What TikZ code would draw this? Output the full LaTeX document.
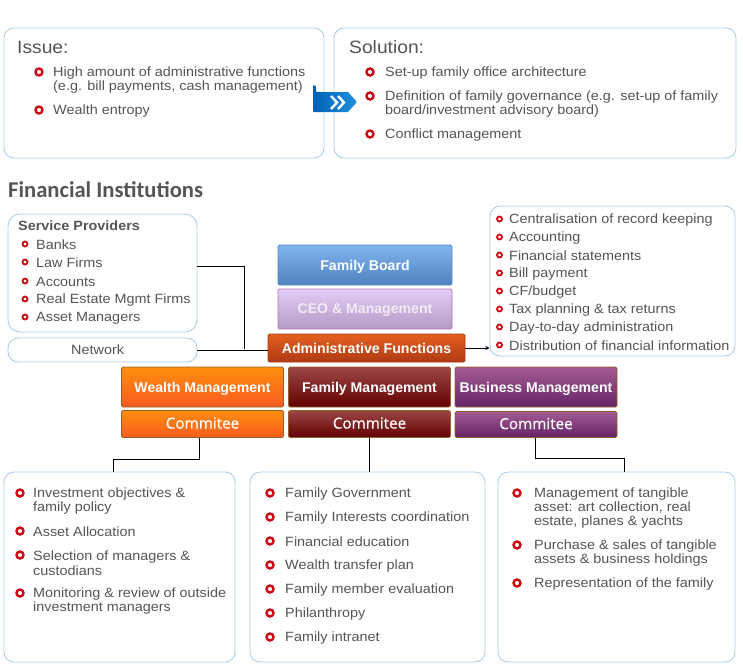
\documentclass[tikz,border=0pt]{standalone}
\usepackage{fontspec}
\setmainfont[FakeStretch=1.075]{Liberation Sans}
\newfontfamily\blockfont{Liberation Sans}
\newfontfamily\comfont[FakeBold=0.5]{Open Sans}
\newfontfamily\headfont{Carlito}
\definecolor{edgeblue}{HTML}{A9CFEA}
\definecolor{textgray}{HTML}{555555}
\definecolor{dotred}{HTML}{CC0A14}
\begin{document}
\begin{tikzpicture}[
  x=1pt, y=-1pt,
  panel/.style={rectangle, draw=edgeblue, line width=0.9pt, rounded corners=10pt, fill=white},
  item/.style={anchor=west, yshift=-1pt, inner sep=0pt, align=left, text=textgray, font=\fontsize{13.4}{14.4}\selectfont},
  dot/.style={circle, draw=dotred, line width=2.4pt, fill=white, inner sep=0pt, minimum size=7pt},
  smalldot/.style={circle, draw=dotred, line width=1.8pt, fill=white, inner sep=0pt, minimum size=5pt},
  head/.style={anchor=west, inner sep=0pt, text=textgray, font=\fontsize{17.9}{20}\selectfont},
  block/.style={rectangle, rounded corners=1.5pt, line width=0.8pt, text=white, inner sep=0pt, text depth=0pt, font=\fontsize{14.1}{16}\selectfont\blockfont\bfseries},
  wide/.style={block, minimum width=162pt, minimum height=40pt},
  com/.style={block, text depth=2pt, font=\fontsize{15.2}{18}\selectfont\comfont, minimum width=162pt},
  orangefill/.style={draw=orangeedge, top color=orangetop, bottom color=orangebot},
  redfill/.style={draw=orangeedge, top color=redtop, bottom color=redbot},
  purplefill/.style={draw=orangeedge, top color=purpletop, bottom color=purplebot},
  link/.style={draw=black, line width=0.9pt}
]
\definecolor{orangeedge}{HTML}{94602A}
\definecolor{orangetop}{HTML}{FF8F0F}
\definecolor{orangebot}{HTML}{FA5A20}
\definecolor{redtop}{HTML}{9C4646}
\definecolor{redbot}{HTML}{620000}
\definecolor{purpletop}{HTML}{A45A92}
\definecolor{purplebot}{HTML}{642468}
\useasboundingbox (0,0) rectangle (743,670);

% Top panels
\node[panel, minimum width=320pt, minimum height=130pt] (issue) at (164,93) {};
\node[panel, minimum width=402pt, minimum height=130pt] (solution) at (535,93) {};

% Arrow between the panels
\definecolor{arrowleft}{HTML}{0060B4}
\definecolor{arrowright}{HTML}{2092DE}
\path[left color=arrowleft, right color=arrowright, rounded corners=0.8pt]
  (313,85) -- (316,86) -- (316,92) -- (348,92) -- (357,102) -- (348,112) -- (313,112) -- cycle;
\draw[white, line width=2.4pt] (331,96) -- (337,102.5) -- (331,109) (338,96) -- (344,102.5) -- (338,109);

% Issue text
\node[head] (issuehead) at (17,47) {Issue:};
\node[item] (issue1) at (53,79) {High amount of administrative functions\\(e.g. bill payments, cash management)};
\node[item] (issue2) at (53,110) {Wealth entropy};
\node[dot] at (39,72) {};
\node[dot] at (39,110) {};

% Solution text
\node[head] (solutionhead) at (349,47) {Solution:};
\node[item] (sol1) at (385,72) {Set-up family office architecture};
\node[item] (sol2) at (385,103) {Definition of family governance (e.g. set-up of family\\board/investment advisory board)};
\node[item] (sol3) at (385,134) {Conflict management};
\node[dot] at (370,72) {};
\node[dot] at (370,96) {};
\node[dot] at (370,134) {};

\node[anchor=west, inner sep=0pt, text=textgray, font=\fontsize{22.6}{24}\selectfont\headfont\bfseries] (fininst) at (8,190) {Financial Institutions};

% Left side
\node[panel, rounded corners=12pt, minimum width=189pt, minimum height=118pt] (service) at (102.5,273) {};
\node[panel, minimum width=189pt, minimum height=24pt] (network) at (102.5,350) {};
\node[item] (networktext) at (71,349) {Network};
\node[item, font=\fontsize{13.4}{14.4}\selectfont\bfseries] (servicehead) at (18,225) {Service Providers};
\node[item] (s1) at (36,244) {Banks};
\node[item] (s2) at (36,262) {Law Firms};
\node[item] (s3) at (36,281) {Accounts};
\node[item] (s4) at (36,299) {Real Estate Mgmt Firms};
\node[item] (s5) at (36,317) {Asset Managers};
\node[smalldot] at (25,244) {};
\node[smalldot] at (25,262) {};
\node[smalldot] at (25,281) {};
\node[smalldot] at (25,299) {};
\node[smalldot] at (25,317) {};

% Right side
\node[panel, minimum width=245pt, minimum height=150pt] (tasks) at (612.5,281) {};
\node[item] (t1) at (509,219) {Centralisation of record keeping};
\node[item] (t2) at (509,237) {Accounting};
\node[item] (t3) at (509,255) {Financial statements};
\node[item] (t4) at (509,273) {Bill payment};
\node[item] (t5) at (509,291) {CF/budget};
\node[item] (t6) at (509,309) {Tax planning \& tax returns};
\node[item] (t7) at (509,327) {Day-to-day administration};
\node[item] (t8) at (509,345) {Distribution of financial information};
\node[smalldot] at (499.5,219) {};
\node[smalldot] at (499.5,237) {};
\node[smalldot] at (499.5,255) {};
\node[smalldot] at (499.5,273) {};
\node[smalldot] at (499.5,291) {};
\node[smalldot] at (499.5,309) {};
\node[smalldot] at (499.5,327) {};
\node[smalldot] at (499.5,345) {};

% Centre blocks
\definecolor{boardtop}{HTML}{80B4EE}
\definecolor{boardbot}{HTML}{4F82BE}
\definecolor{ceotop}{HTML}{E4CCF8}
\definecolor{ceobot}{HTML}{B29AC4}
\definecolor{admintop}{HTML}{E4601F}
\definecolor{adminbot}{HTML}{AE3A14}
\node[block, draw=boardbot!80!boardtop, top color=boardtop, bottom color=boardbot, minimum width=174pt, minimum height=40pt] (board) at (365,265) {Family Board};
\node[block, draw=violet!55!white, top color=ceotop, bottom color=ceobot, text=white!92!violet, minimum width=174pt, minimum height=40pt] (ceo) at (365,309) {CEO \& Management};
\node[block, draw=adminbot, top color=admintop, bottom color=adminbot, minimum width=197pt, minimum height=28pt] (admin) at (366.5,348) {Administrative Functions};

\node[wide, orangefill] (wealth) at (202.5,387) {Wealth Management};
\node[wide, redfill] (family) at (369.5,387) {Family Management};
\node[wide, purplefill] (business) at (536,387) {Business Management};

\node[com, orangefill, minimum height=27pt] (wealthcom) at (202.5,424) {Commitee};
\node[com, redfill, minimum height=27pt] (familycom) at (369.5,424) {Commitee};
\node[com, purplefill, minimum height=26pt] (businesscom) at (536,424.5) {Commitee};

% Bottom panels
\node[panel, minimum width=231pt, minimum height=190pt] (wealthbox) at (119.5,567) {};
\node[panel, minimum width=235pt, minimum height=190pt] (familybox) at (367.5,567) {};
\node[panel, minimum width=237pt, minimum height=190pt] (businessbox) at (616.5,567) {};

\node[item] (w1) at (33,500) {Investment objectives \&\\family policy};
\node[item] (w2) at (33,531) {Asset Allocation};
\node[item] (w3) at (33,562) {Selection of managers \&\\custodians};
\node[item] (w4) at (33,600) {Monitoring \& review of outside\\investment managers};
\node[dot] at (20,493) {};
\node[dot] at (20,531) {};
\node[dot] at (20,555) {};
\node[dot] at (20,593) {};

\node[item] (f1) at (285,493) {Family Government};
\node[item] (f2) at (285,517) {Family Interests coordination};
\node[item] (f3) at (285,541) {Financial education};
\node[item] (f4) at (285,565) {Wealth transfer plan};
\node[item] (f5) at (285,589) {Family member evaluation};
\node[item] (f6) at (285,613) {Philanthropy};
\node[item] (f7) at (285,637) {Family intranet};
\node[dot] at (270,493) {};
\node[dot] at (270,517) {};
\node[dot] at (270,541) {};
\node[dot] at (270,565) {};
\node[dot] at (270,589) {};
\node[dot] at (270,613) {};
\node[dot] at (270,637) {};

\node[item] (b1) at (534,507) {Management of tangible\\asset: art collection, real\\estate, planes \& yachts};
\node[item] (b2) at (534,552) {Purchase \& sales of tangible\\assets \& business holdings};
\node[item] (b3) at (534,583) {Representation of the family};
\node[dot] at (517,493) {};
\node[dot] at (517,545) {};
\node[dot] at (517,583) {};

% Connectors
\coordinate (join) at (244,349);
\draw[link] ([yshift=7pt]service.east) -| (join);
\draw[link] (network.east) -- (admin.west |- network.east);
\draw[link,-stealth] (admin.east) -- (tasks.west |- admin.east);
\draw[link] ([xshift=-3pt]wealthcom.south) -- ++(0,22) -| ([xshift=-6pt]wealthbox.north);
\draw[link] (familycom.south) -- (familycom.south |- familybox.north);
\draw[link] ([xshift=-1pt]businesscom.south) -- ++(0,21) -| ([xshift=8pt]businessbox.north);
\end{tikzpicture}
\end{document}
